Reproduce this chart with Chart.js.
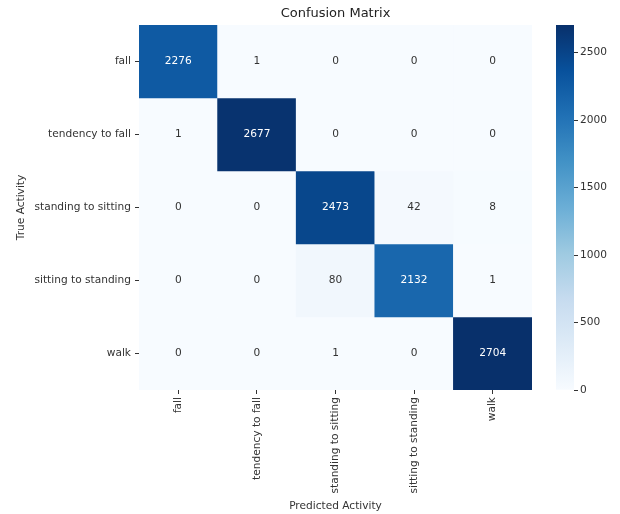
<!DOCTYPE html>
<html>
<head>
<meta charset="utf-8">
<script src="https://cdn.jsdelivr.net/npm/chart.js@4.4.1/dist/chart.umd.min.js"></script>
<style>
  html, body { margin: 0; padding: 0; background: #ffffff; }
  #wrap { position: relative; width: 620px; height: 514px; }
  #heat { position: absolute; left: 0; top: 0; }
  #bar { position: absolute; left: 540px; top: 0; }
</style>
</head>
<body>
<div id="wrap">
  <canvas id="heat" width="545" height="514"></canvas>
  <canvas id="bar" width="80" height="514"></canvas>
</div>
<script>
// Activity classes (rows = true activity, columns = predicted activity)
const predictedLabels = ['fall', 'tendency to fall', 'standing to sitting', 'sitting to standing', 'walk'];
const trueLabels = ['fall', 'tendency to fall', 'standing to sitting', 'sitting to standing', 'walk'];

// Counts per true activity, one array per row
const fallRow = [2276, 1, 0, 0, 0];
const tendencyRow = [1, 2677, 0, 0, 0];
const standToSitRow = [0, 0, 2473, 42, 8];
const sitToStandRow = [0, 0, 80, 2132, 1];
const walkRow = [0, 0, 1, 0, 2704];

// Colour bar tick values
const colorbarTicks = [0, 500, 1000, 1500, 2000, 2500];

const matrix = [fallRow, tendencyRow, standToSitRow, sitToStandRow, walkRow];
const vmin = 0;
const vmax = Math.max(...matrix.flat());

// "Blues" sequential colour map
const bluesStops = [
  [247, 251, 255], [222, 235, 247], [198, 219, 239], [158, 202, 225],
  [107, 174, 214], [66, 146, 198], [33, 113, 181], [8, 81, 156], [8, 48, 107]
];
function blues(t) {
  t = Math.min(1, Math.max(0, t));
  const pos = t * (bluesStops.length - 1);
  const i = Math.min(bluesStops.length - 2, Math.floor(pos));
  const f = pos - i;
  const a = bluesStops[i], b = bluesStops[i + 1];
  const c = a.map((v, k) => Math.round(v + (b[k] - v) * f));
  return 'rgb(' + c.join(',') + ')';
}
function norm(v) { return (v - vmin) / (vmax - vmin); }

Chart.defaults.font.family = "'DejaVu Sans', sans-serif";
Chart.defaults.color = '#333333';

const TEXT = '#333333';
const FONT = { family: "'DejaVu Sans', sans-serif", size: 10.6 };

// One floating-bar dataset per true-activity row, spanning [row, row + 1]
const datasets = matrix.map((row, r) => ({
  label: trueLabels[r],
  data: row.map(() => [r, r + 1]),
  counts: row,
  backgroundColor: row.map(v => blues(norm(v))),
  borderWidth: 0,
  barPercentage: 1,
  categoryPercentage: 1
}));

// Writes each count in the centre of its cell
const cellLabels = {
  id: 'cellLabels',
  afterDatasetsDraw(chart) {
    const ctx = chart.ctx;
    ctx.save();
    ctx.font = "10.6px 'DejaVu Sans', sans-serif";
    ctx.textAlign = 'center';
    ctx.textBaseline = 'middle';
    chart.data.datasets.forEach((ds, di) => {
      const meta = chart.getDatasetMeta(di);
      meta.data.forEach((el, ci) => {
        const v = ds.counts[ci];
        ctx.fillStyle = norm(v) > 0.45 ? '#ffffff' : TEXT;
        ctx.fillText(String(v), el.x, (el.y + el.base) / 2);
      });
    });
    ctx.restore();
  }
};

new Chart(document.getElementById('heat'), {
  type: 'bar',
  data: { labels: predictedLabels, datasets },
  plugins: [cellLabels],
  options: {
    responsive: false,
    animation: false,
    events: [],
    layout: { padding: { left: 0, right: 13, top: 0, bottom: 0 } },
    plugins: {
      legend: { display: false },
      tooltip: { enabled: false },
      title: {
        display: true,
        text: 'Confusion Matrix',
        fullSize: false,
        color: '#222222',
        font: { family: "'DejaVu Sans', sans-serif", size: 13, weight: 'normal' },
        padding: { top: 6, bottom: 3.4 }
      }
    },
    scales: {
      x: {
        type: 'category',
        stacked: true,
        offset: true,
        grid: { offset: false, drawOnChartArea: false, drawTicks: true, tickLength: 4, tickColor: TEXT },
        border: { display: false },
        ticks: { autoSkip: false, maxRotation: 90, minRotation: 90, padding: 3, color: TEXT, font: FONT },
        title: { display: true, text: 'Predicted Activity', color: TEXT, font: FONT, padding: { top: 0, bottom: 1 } },
        afterFit(scale) { scale.height = 124; }
      },
      y: {
        type: 'linear',
        min: 0,
        max: trueLabels.length,
        reverse: true,
        grid: { drawOnChartArea: false, drawTicks: true, tickLength: 4, tickColor: TEXT },
        border: { display: false },
        afterBuildTicks(scale) {
          scale.ticks = trueLabels.map((_, i) => ({ value: i + 0.5 }));
        },
        ticks: {
          padding: 4,
          color: TEXT,
          font: FONT,
          callback(value) { return trueLabels[Math.round(value - 0.5)]; }
        },
        title: { display: true, text: 'True Activity', color: TEXT, font: FONT, padding: { top: 15, bottom: 0 } },
        afterFit(scale) { scale.width = 139; }
      }
    }
  }
});

// Colour bar: one floating bar from vmin to vmax filled with the colour map
new Chart(document.getElementById('bar'), {
  type: 'bar',
  data: {
    labels: [''],
    datasets: [{
      data: [[vmin, vmax]],
      borderWidth: 0,
      barPercentage: 1,
      categoryPercentage: 1,
      backgroundColor(context) {
        const area = context.chart.chartArea;
        if (!area) return blues(0.5);
        const g = context.chart.ctx.createLinearGradient(0, area.bottom, 0, area.top);
        bluesStops.forEach((c, i) => g.addColorStop(i / (bluesStops.length - 1), 'rgb(' + c.join(',') + ')'));
        return g;
      }
    }]
  },
  options: {
    responsive: false,
    animation: false,
    events: [],
    layout: { padding: { left: 16, right: 0, top: 25, bottom: 124 } },
    plugins: { legend: { display: false }, tooltip: { enabled: false } },
    scales: {
      x: { display: false },
      y: {
        type: 'linear',
        position: 'right',
        min: vmin,
        max: vmax,
        grid: { drawOnChartArea: false, drawTicks: true, tickLength: 4, tickColor: TEXT },
        border: { display: false },
        afterBuildTicks(scale) {
          scale.ticks = colorbarTicks.map(v => ({ value: v }));
        },
        ticks: { padding: 2, color: TEXT, font: FONT, callback(value) { return String(value); } },
        afterFit(scale) { scale.width = 46; }
      }
    }
  }
});
</script>
</body>
</html>
